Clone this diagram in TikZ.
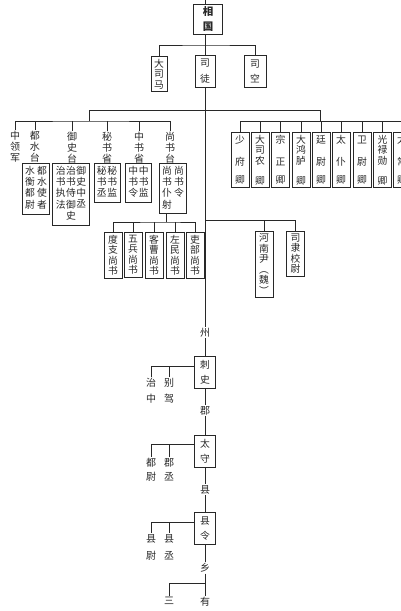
\documentclass[tikz,border=0pt]{standalone}
\usepackage{fontspec}
\newfontfamily\cjk{Noto Sans CJK SC}
\usepackage{xcolor}
\definecolor{ink}{RGB}{40,40,40}
\newcommand{\vc}[1]{\begin{tabular}[t]{@{}c@{}}#1\end{tabular}}

\begin{document}
\begin{tikzpicture}[
  x=1pt, y=-1pt,
  font=\cjk\fontsize{9.8}{10.5}\selectfont,
  every node/.style={inner sep=0pt, text=ink},
  off/.style={draw=ink, line width=0.65pt, anchor=north, align=center,
    inner xsep=3pt, inner ysep=2.5pt, minimum width=18pt},
  tag/.style={anchor=north, align=center, inner sep=1pt,
    font=\cjk\fontsize{10}{11}\selectfont},
  wire/.style={draw=ink, line width=0.65pt}
]
\path[fill=white, use as bounding box] (0,0) rectangle (400,611);

%% ── Top: 相国 and the three gong ─────────────────────────────────────────────
\node[off, minimum width=29pt, minimum height=30pt,
  font=\cjk\bfseries\fontsize{10.5}{12}\selectfont] (xg) at (208,4) {相\\[3pt]国};
\node[off, minimum width=16pt, minimum height=31pt] (dsm) at (159,56) {大\\司\\马};
\node[off, minimum width=20pt, minimum height=32pt] (situ) at (205,55) {司\\[5pt]徒};
\node[off, minimum width=22pt, minimum height=32pt] (sk) at (255,55) {司\\[5pt]空};

\coordinate (top) at (205,0);
\coordinate (sbus) at (205,45);
\draw[wire] (top) -- (xg.north -| top);
\draw[wire] (xg.south -| top) -- (sbus);
\draw[wire] (dsm.north) |- (sbus) -| (sk.north);
\draw[wire] (sbus) -- (situ.north);

%% ── Bus under 司徒 ────────────────────────────────────────────────────────────
\coordinate (lknee) at (89,110);
\coordinate (rknee) at (320,110);
\coordinate (lbus) at (89,121);
\coordinate (rbus) at (320,121);
\draw[wire] (lknee) -- (rknee);
\draw[wire] (lknee) -- (lbus);
\draw[wire] (rknee) -- (rbus);

%% ── Left: 台 and 省 ───────────────────────────────────────────────────────────
\node[tag] (zlj) at (15,130) {中\\领\\军};
\node[tag] (dst) at (35,130) {都\\水\\台};
\node[tag] (yst) at (72,131) {御\\史\\台};
\node[tag] (msc) at (107,131) {秘\\书\\省};
\node[tag] (zsc) at (139,131) {中\\书\\省};
\node[tag] (sst) at (170,131) {尚\\书\\台};

\draw[wire] (zlj.north) |- (lbus) -| (sst.north);
\foreach \n in {dst,yst,msc,zsc}
  \draw[wire] (\n.north) -- (\n.north |- lbus);

\node[off] (dstbox) at (36,163) {\vc{水\\衡\\都\\尉}\hspace{2pt}\vc{都\\水\\使\\者}};
\node[off] (ystbox) at (71,163) {\vc{治\\书\\执\\法}\hspace{0.5pt}\vc{治\\书\\侍\\御\\史}\hspace{0.5pt}\vc{御\\史\\中\\丞}};
\node[off] (mscbox) at (107,163) {\vc{秘\\书\\丞}\hspace{0.5pt}\vc{秘\\书\\监}};
\node[off] (zscbox) at (138.5,163) {\vc{中\\书\\令}\hspace{0.5pt}\vc{中\\书\\监}};
\node[off] (sstbox) at (173,163) {\vc{尚\\书\\仆\\射}\hspace{2pt}\vc{尚\\书\\令}};

%% ── 尚书 ──────────────────────────────────────────────────────────────────────
\coordinate (sknee) at (166,222);
\foreach \x/\nm [count=\i] in {113/度\\支\\尚\\书, 133/五\\兵\\尚\\书,
    154/客\\曹\\尚\\书, 175/左\\民\\尚\\书, 195/吏\\部\\尚\\书}
  \node[off, minimum height=45pt] (sb\i) at (\x,232) {\nm};
\draw[wire] (sstbox.south -| sknee) -- (sknee);
\draw[wire] (sb1.north) |- (sknee) -| (sb5.north);
\foreach \i in {2,3,4}
  \draw[wire] (sb\i.north) -- (sb\i.north |- sknee);

%% ── Right: the nine qing ─────────────────────────────────────────────────────
\foreach \x/\nm [count=\i] in {240/少\\[11.5pt]府\\[7.5pt]卿, 260/大\\司\\农\\[9.5pt]卿,
    280.5/宗\\[11.5pt]正\\[7.5pt]卿, 301/大\\鸿\\胪\\[9.5pt]卿,
    321/廷\\[11.5pt]尉\\[7.5pt]卿, 341/太\\[11.5pt]仆\\[7.5pt]卿,
    362/卫\\[11.5pt]尉\\[7.5pt]卿, 382.5/光\\禄\\勋\\[9.5pt]卿,
    402/太\\[11.5pt]常\\[7.5pt]卿}
  \node[off, minimum height=55pt] (jq\i) at (\x,132) {\nm};
\draw[wire] (jq1.north |- rbus) -- (jq9.north |- rbus);
\foreach \i in {1,...,9}
  \draw[wire] (jq\i.north) -- (jq\i.north |- rbus);

%% ── 河南尹 and 司隶校尉 ─────────────────────────────────────────────────────
\coordinate (hbus) at (205,220);
\node[off, minimum height=59pt] (hny) at (264,231) {河\\南\\尹\\︵\\魏\\︶};
\node[off, minimum height=44pt] (slxw) at (295.5,231) {司\\隶\\校\\尉};
\draw[wire] (hbus) -| (slxw.north);
\draw[wire] (hny.north) -- (hny.north |- hbus);

%% ── Trunk: 州, 郡, 县, 乡 ─────────────────────────────────────────────────────
\node[tag] (zhou) at (205,327) {州};
\node[off, minimum width=21pt, minimum height=32pt] (cishi) at (205,356) {刺\\[5pt]史};
\node[tag] (jun) at (205,405) {郡};
\node[off, minimum width=21pt, minimum height=32pt] (taishou) at (205,435) {太\\[5pt]守};
\node[tag] (xian) at (205,484) {县};
\node[off, minimum width=21pt, minimum height=32pt] (xianling) at (205,512) {县\\[5pt]令};
\node[tag] (xiang) at (205,562) {乡};
\node[tag] (youzhi) at (205,596) {有\\[6pt]秩};
\node[tag] (sanlao) at (169,596) {三\\[6pt]老};

\draw[wire] (situ.south) -- (zhou.north);
\draw[wire] (zhou.south) -- (cishi.north);
\draw[wire] (cishi.south) -- (jun.north);
\draw[wire] (jun.south) -- (taishou.north);
\draw[wire] (taishou.south) -- (xian.north);
\draw[wire] (xian.south) -- (xianling.north);
\draw[wire] (xianling.south) -- (xiang.north);
\draw[wire] (xiang.south) -- (youzhi.north);
\coordinate (xbus) at (205,583);
\draw[wire] (xbus) -| (sanlao.north);

%% ── Side officers ─────────────────────────────────────────────────────────────
\node[tag] (zhizhong) at (151,377) {治\\[5pt]中};
\node[tag] (biejia) at (169,377) {别\\[5pt]驾};
\node[tag] (duwei) at (151,457) {都\\[3pt]尉};
\node[tag] (juncheng) at (169,457) {郡\\[3pt]丞};
\node[tag] (xianwei) at (151,533) {县\\[6pt]尉};
\node[tag] (xiancheng) at (169,533) {县\\[6pt]丞};

\coordinate (cbus) at ([yshift=6pt]cishi.west);
\coordinate (tbus) at ([yshift=7pt]taishou.west);
\coordinate (lgbus) at ([yshift=6pt]xianling.west);
\draw[wire] (cbus) -| (zhizhong.north);
\draw[wire] (biejia.north) -- (biejia.north |- cbus);
\draw[wire] (tbus) -| (duwei.north);
\draw[wire] (juncheng.north) -- (juncheng.north |- tbus);
\draw[wire] (lgbus) -| (xianwei.north);
\draw[wire] (xiancheng.north) -- (xiancheng.north |- lgbus);

\end{tikzpicture}
\end{document}
